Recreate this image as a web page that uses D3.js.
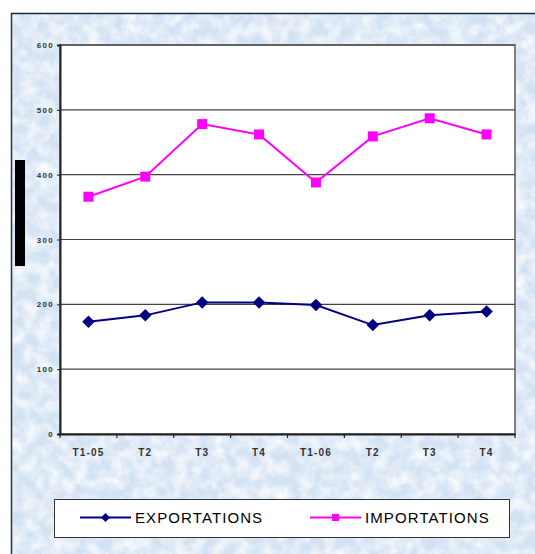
<!DOCTYPE html>
<html><head><meta charset="utf-8">
<script src="https://cdn.jsdelivr.net/npm/d3@7"></script>
<style>html,body{margin:0;padding:0;background:#fff;}svg{display:block;}</style>
</head><body>
<script>
const categories = ["T1-05","T2","T3","T4","T1-06","T2","T3","T4"];
const exportations = [173, 183, 203, 203, 199, 168, 183, 189];
const importations = [366, 397, 478, 462, 388, 459, 487, 462];
const yTicks = [0, 100, 200, 300, 400, 500, 600];
const seriesNames = ["EXPORTATIONS", "IMPORTATIONS"];

(function(){
const W = 535, H = 554;
const svg = d3.select("body").append("svg").attr("width", W).attr("height", H);
const defs = svg.append("defs");
const f = defs.append("filter").attr("id","tex").attr("x",0).attr("y",0).attr("width","100%").attr("height","100%");
f.append("feTurbulence").attr("type","fractalNoise").attr("baseFrequency","0.08").attr("numOctaves",4).attr("seed",7).attr("result","n");
f.append("feColorMatrix").attr("in","n").attr("type","matrix")
  .attr("values","0 0 0 0 1  0 0 0 0 1  0 0 0 0 1  1.6 0 0 0 -0.5").attr("result","c");
f.append("feComposite").attr("in","c").attr("in2","SourceGraphic").attr("operator","in");

svg.append("rect").attr("x",11).attr("y",13).attr("width",W-11).attr("height",H-13).attr("fill","#d3e2f3");
svg.append("rect").attr("x",11).attr("y",13).attr("width",W-11).attr("height",H-13).attr("fill","#fff").attr("filter","url(#tex)");
svg.append("line").attr("x1",11).attr("x2",W).attr("y1",13.5).attr("y2",13.5).attr("stroke","#1a2840").attr("stroke-width",1.5);
svg.append("line").attr("x1",11.5).attr("x2",11.5).attr("y1",13).attr("y2",H).attr("stroke","#333").attr("stroke-width",1.5);

svg.append("rect").attr("x",15).attr("y",160).attr("width",10).attr("height",106).attr("fill","#000");

const pLeft = 60, pRight = 515, pTop = 45, pBottom = 434;
const x = d3.scaleBand().domain(d3.range(categories.length)).range([pLeft, pRight]);
const y = d3.scaleLinear().domain([0, 600]).range([pBottom, pTop]);

svg.append("rect").attr("x",pLeft).attr("y",pTop).attr("width",pRight-pLeft).attr("height",pBottom-pTop).attr("fill","#fff")
  .attr("stroke","#808080").attr("stroke-width",2);

svg.append("g").selectAll("line").data(yTicks.filter(d=>d>0)).join("line")
  .attr("x1",pLeft).attr("x2",pRight).attr("y1",d=>y(d)).attr("y2",d=>y(d))
  .attr("stroke","#444").attr("stroke-width",1.2);

const yAxis = svg.append("g").attr("transform",`translate(${pLeft},0)`)
  .call(d3.axisLeft(y).tickValues(yTicks).tickSize(3).tickPadding(3).tickFormat(d3.format("d")));
yAxis.select(".domain").attr("stroke","#222").attr("stroke-width",2);
yAxis.selectAll(".tick line").attr("stroke","#222");
yAxis.selectAll("text").attr("font-family","Arial, 'Liberation Sans', sans-serif").attr("font-size","8px")
  .attr("font-weight","bold").attr("fill","#333").attr("letter-spacing","1.3px");

const xAxis = svg.append("g").attr("transform",`translate(0,${pBottom})`)
  .call(d3.axisBottom(x).tickSize(0).tickFormat(i=>categories[i]));
xAxis.select(".domain").attr("stroke","#222").attr("stroke-width",2);
xAxis.selectAll("text").attr("font-family","Arial, 'Liberation Sans', sans-serif").attr("font-size","10px")
  .attr("font-weight","bold").attr("fill","#333").attr("letter-spacing","1.2px").attr("y",22).attr("dy","0");
xAxis.selectAll(".tickmark").data(d3.range(categories.length+1)).join("line")
  .attr("x1",i=>pLeft + i*x.step()).attr("x2",i=>pLeft + i*x.step()).attr("y1",0).attr("y2",4)
  .attr("stroke","#222").attr("stroke-width",1.2);

const cx = i => x(i) + x.bandwidth()/2;
const line = d3.line().x((d,i)=>cx(i)).y(d=>y(d));

svg.append("path").datum(importations).attr("d",line).attr("fill","none").attr("stroke","#ff00ff").attr("stroke-width",2);
svg.append("g").selectAll("rect").data(importations).join("rect")
  .attr("x",(d,i)=>cx(i)-5).attr("y",d=>y(d)-5).attr("width",10).attr("height",10).attr("fill","#ff00ff");

svg.append("path").datum(exportations).attr("d",line).attr("fill","none").attr("stroke","#000080").attr("stroke-width",2);
svg.append("g").selectAll("path").data(exportations).join("path")
  .attr("transform",(d,i)=>`translate(${cx(i)},${y(d)}) rotate(45)`)
  .attr("d", d3.symbol().type(d3.symbolSquare).size(78)).attr("fill","#000080");

const lg = svg.append("g");
lg.append("rect").attr("x",54.5).attr("y",499.5).attr("width",455).attr("height",38).attr("fill","#fff").attr("stroke","#333").attr("stroke-width",1);
const ly = 517.5;
const items = [
  {name: seriesNames[0], color: "#000080", x0: 80, shape: "d"},
  {name: seriesNames[1], color: "#ff00ff", x0: 310, shape: "s"}
];
items.forEach(it => {
  lg.append("line").attr("x1",it.x0).attr("x2",it.x0+51).attr("y1",ly).attr("y2",ly).attr("stroke",it.color).attr("stroke-width",2);
  if (it.shape === "d") {
    lg.append("path").attr("transform",`translate(${it.x0+25.5},${ly}) rotate(45)`)
      .attr("d", d3.symbol().type(d3.symbolSquare).size(40)).attr("fill",it.color);
  } else {
    lg.append("rect").attr("x",it.x0+22).attr("y",ly-3.5).attr("width",7).attr("height",7).attr("fill",it.color);
  }
  lg.append("text").attr("x",it.x0+55).attr("y",ly+5.5).text(it.name)
    .attr("font-family","Arial, 'Liberation Sans', sans-serif").attr("font-size","15px").attr("fill","#000")
    .attr("letter-spacing","1.1px");
});
})();
</script>
</body></html>
